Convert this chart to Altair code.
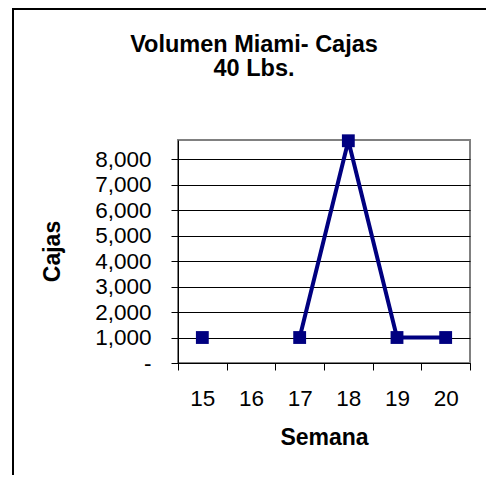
import altair as alt
import pandas as pd

# ---- data ----
weeks = [15, 16, 17, 18, 19, 20]
cajas = [1000, None, 1000, 8720, 1000, 1000]
y_ticks = [0, 1000, 2000, 3000, 4000, 5000, 6000, 7000, 8000]
title_lines = ["Volumen Miami- Cajas", "40 Lbs."]

df = pd.DataFrame({"Semana": weeks, "Cajas": cajas})
df["tramo"] = df["Cajas"].isna().cumsum()   # break the line at the missing week
pts = df.dropna()

FONT = "Liberation Sans"
NAVY = "#000080"
W, H = 292, 223
PAD_L, PAD_T, PAD_R, PAD_B = 170, 132, 16, 112

x_enc = alt.X(
    "Semana:O",
    scale=alt.Scale(domain=weeks, paddingInner=0, paddingOuter=0),
    axis=alt.Axis(
        title="Semana", labelAngle=0, tickBand="extent", tickSize=7,
        tickColor="black", domainColor="black", grid=False,
        labelFontSize=22.5, labelBaseline="alphabetic", labelPadding=35,
        titleFontSize=23, titleFontWeight="bold", titleBaseline="alphabetic",
        titleY=81,
    ),
)
y_enc = alt.Y(
    "Cajas:Q",
    scale=alt.Scale(domain=[0, 8750], nice=False, zero=True),
    axis=alt.Axis(
        title="Cajas", values=y_ticks,
        labelExpr="datum.value == 0 ? '-\u00a0\u00a0\u00a0\u00a0' : format(datum.value, ',')",
        tickSize=7, tickColor="black", domainColor="black", labelPadding=20,
        labelFontSize=22.5, gridColor="black", gridWidth=1, gridOpacity=1,
        titleFontSize=23, titleFontWeight="bold", titleAngle=270,
        titleAlign="center", titleBaseline="middle", titleX=-126, titleY=111,
    ),
)

line = alt.Chart(pts).mark_line(color=NAVY, strokeWidth=4).encode(
    x=x_enc, y=y_enc, detail="tramo:N"
)
points = alt.Chart(pts).mark_square(color=NAVY, size=165, opacity=1).encode(
    x=x_enc, y=y_enc
)

frame_df = pd.DataFrame({"k": [0]})
left_border = alt.Chart(frame_df).mark_rule(color="black", strokeWidth=2).encode(
    x=alt.value(-165), x2=alt.value(-165), y=alt.value(-131), y2=alt.value(345)
)
top_border = alt.Chart(frame_df).mark_rule(color="black", strokeWidth=2).encode(
    x=alt.value(-166), x2=alt.value(312), y=alt.value(-131), y2=alt.value(-131)
)

chart = (
    alt.layer(line, points, left_border, top_border)
    .properties(
        width=W, height=H,
        padding={"left": PAD_L, "top": PAD_T, "right": PAD_R, "bottom": PAD_B},
        autosize=alt.AutoSizeParams(type="none"),
        title=alt.TitleParams(
            text=title_lines, fontSize=23.5, fontWeight="bold", font=FONT,
            anchor="middle", dx=-70, baseline="alphabetic", offset=-91,
            lineHeight=24, color="black",
        ),
    )
    .configure(font=FONT, background="white")
    .configure_view(stroke="#808080", strokeWidth=2)
    .configure_axis(labelColor="black", titleColor="black", labelFont=FONT, titleFont=FONT)
)

chart.save("out.html", embed_options={"renderer": "svg", "actions": False})
